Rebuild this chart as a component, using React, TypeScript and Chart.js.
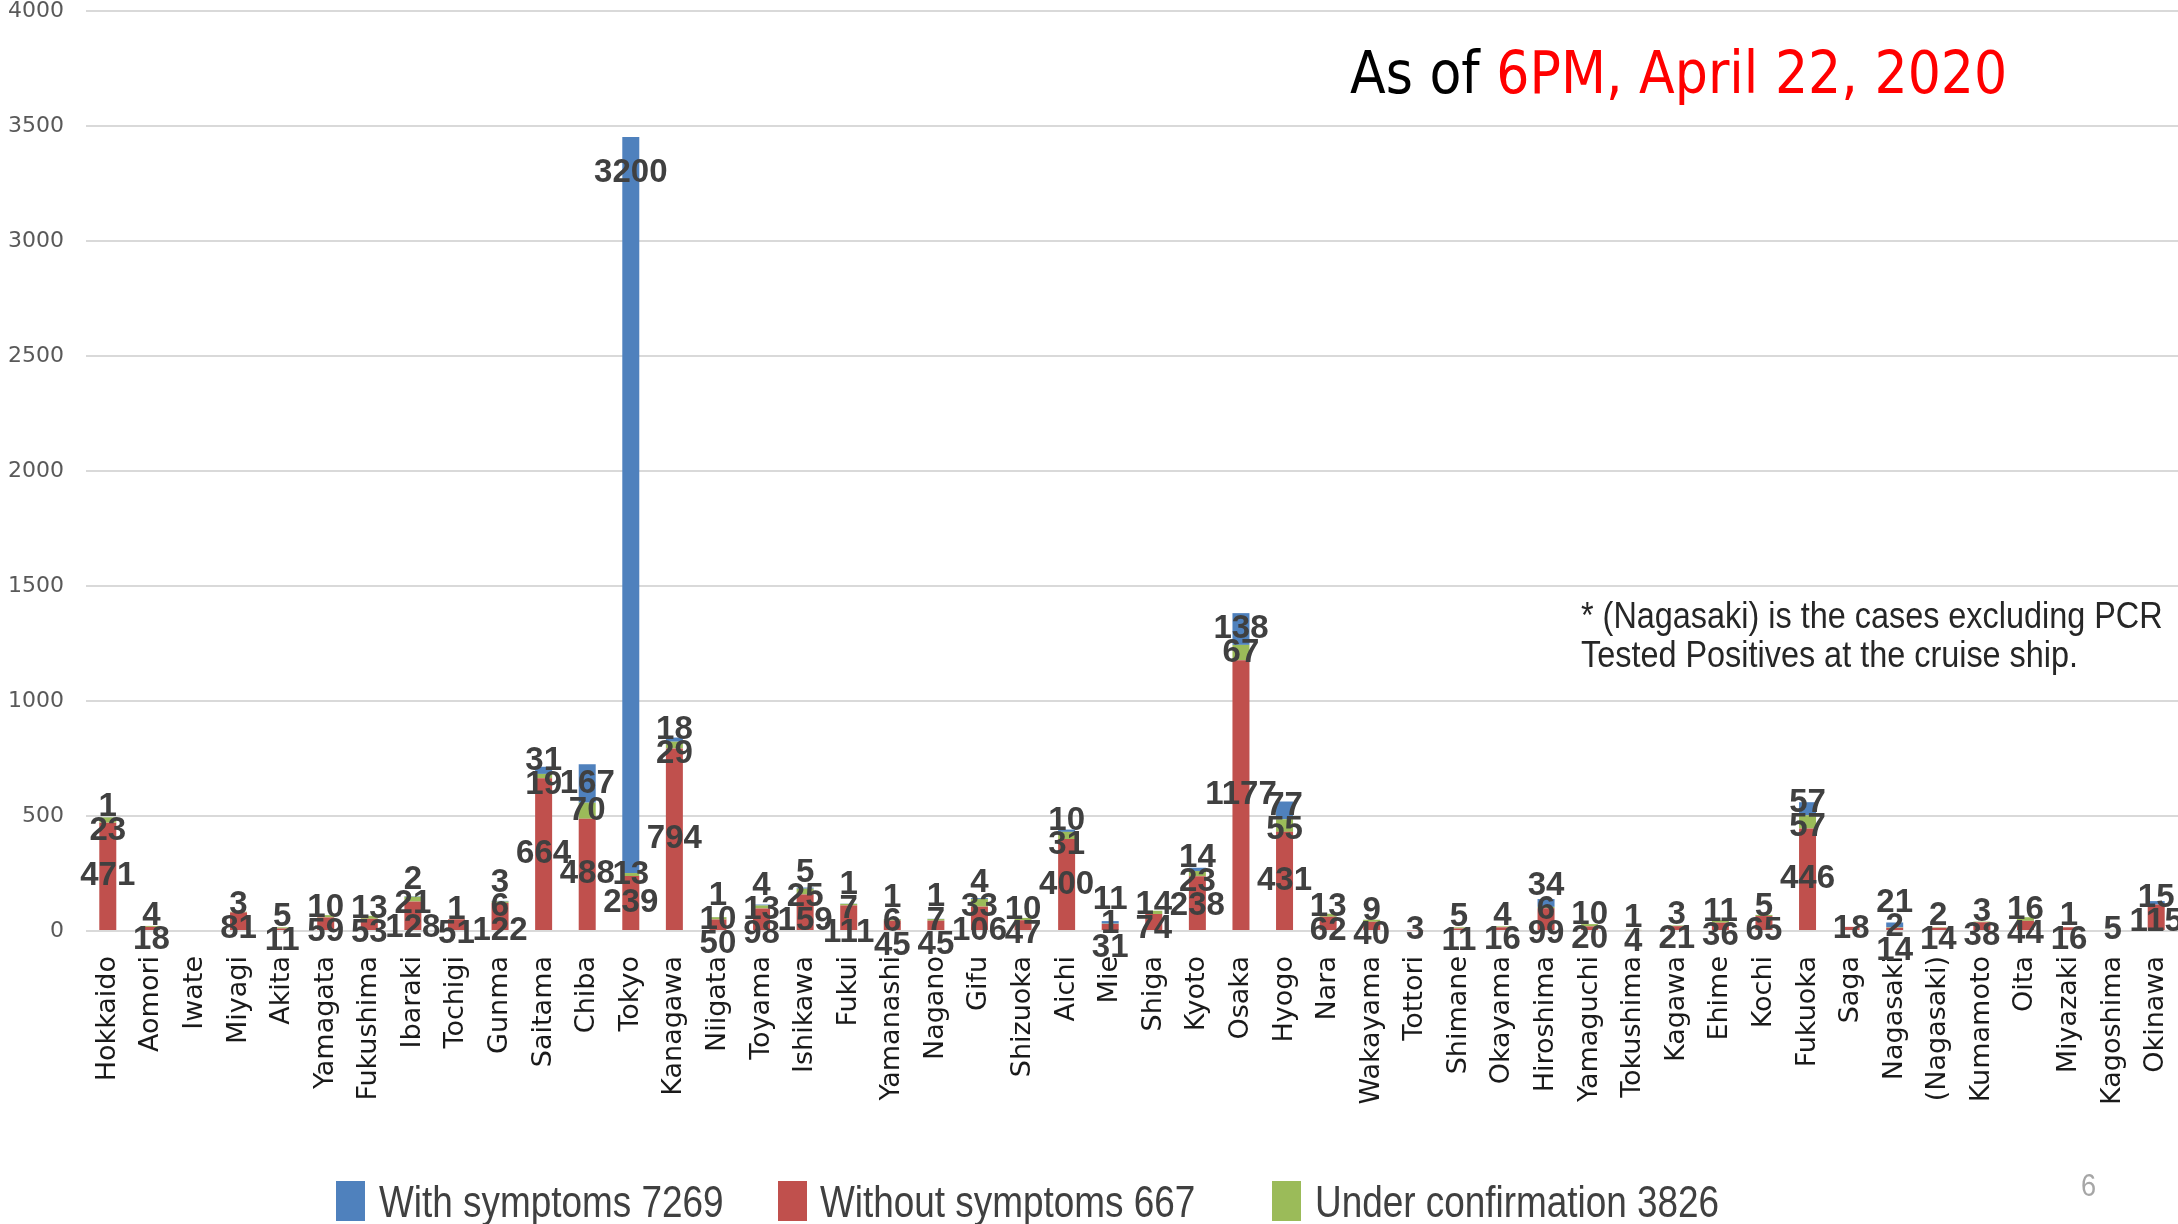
import React, { useEffect, useRef } from "react";
import { Chart, registerables } from "chart.js";

Chart.register(...registerables);

const categories = [
  "Hokkaido", "Aomori", "Iwate", "Miyagi", "Akita", "Yamagata", "Fukushima", "Ibaraki",
  "Tochigi", "Gunma", "Saitama", "Chiba", "Tokyo", "Kanagawa", "Niigata", "Toyama",
  "Ishikawa", "Fukui", "Yamanashi", "Nagano", "Gifu", "Shizuoka", "Aichi", "Mie",
  "Shiga", "Kyoto", "Osaka", "Hyogo", "Nara", "Wakayama", "Tottori", "Shimane",
  "Okayama", "Hiroshima", "Yamaguchi", "Tokushima", "Kagawa", "Ehime", "Kochi", "Fukuoka",
  "Saga", "Nagasaki", "(Nagasaki)", "Kumamoto", "Oita", "Miyazaki", "Kagoshima", "Okinawa",
];

// red segment (bottom of each stack)
const redValues = [
  471, 18, 0, 81, 11, 59, 53, 128,
  51, 122, 664, 488, 239, 794, 50, 98,
  159, 111, 45, 45, 106, 47, 400, 31,
  74, 238, 1177, 431, 62, 40, 3, 11,
  16, 99, 20, 4, 21, 36, 65, 446,
  18, 14, 14, 38, 44, 16, 0, 115,
];

// green segment (middle)
const greenValues = [
  23, 4, 0, 3, 5, 10, 13, 21,
  1, 6, 19, 70, 13, 29, 10, 13,
  25, 7, 6, 7, 33, 10, 31, 1,
  14, 23, 67, 55, 13, 9, 0, 5,
  4, 6, 10, 1, 3, 11, 5, 57,
  0, 2, 2, 3, 16, 1, 5, 0,
];

// blue segment (top)
const blueValues = [
  1, 0, 0, 0, 0, 0, 0, 2,
  0, 3, 31, 167, 3200, 18, 1, 4,
  5, 1, 1, 1, 4, 0, 10, 11,
  0, 14, 138, 77, 0, 0, 0, 0,
  0, 34, 0, 0, 0, 0, 0, 57,
  0, 21, 0, 0, 0, 0, 0, 15,
];

const legendBlue = "With symptoms 7269";
const legendRed = "Without symptoms 667";
const legendGreen = "Under confirmation 3826";

const titleBlack = "As of ";
const titleRed = "6PM, April 22, 2020";
const noteLines = [
  "* (Nagasaki) is the cases excluding PCR",
  "Tested Positives at the cruise ship.",
];
const pageNumber = "6";

const yTicks = [0, 500, 1000, 1500, 2000, 2500, 3000, 3500, 4000];

const BLUE = "#4F81BD";
const RED = "#C0504D";
const GREEN = "#9BBB59";

const SANS = "'Liberation Sans', Arial, sans-serif";

function condensedText(ctx: any, text: string, x: number, y: number, sx: number) {
  ctx.save();
  ctx.translate(x, y);
  ctx.scale(sx, 1);
  ctx.fillText(text, 0, 0);
  ctx.restore();
}

const segLabels = {
  id: "segLabels",
  afterDatasetsDraw(chart: any) {
    const ctx = chart.ctx;
    const n = chart.data.labels.length;
    ctx.save();
    ctx.font = "bold 33px " + SANS;
    ctx.fillStyle = "#404040";
    ctx.textAlign = "center";
    ctx.textBaseline = "middle";
    const sep = 24;
    for (let i = 0; i < n; i++) {
      const items: { text: string; x: number; y: number }[] = [];
      chart.data.datasets.forEach((ds: any, d: number) => {
        const v = ds.data[i];
        if (!v) return;
        const el = chart.getDatasetMeta(d).data[i];
        const top = Math.min(el.y, el.base);
        const bot = Math.max(el.y, el.base);
        let y = (top + bot) / 2;
        if (d === 2) y = Math.min(y, top + 36);
        items.push({ text: String(v), x: el.x, y });
      });
      for (let it = 0; it < 40; it++) {
        items.sort((a, b) => a.y - b.y);
        for (let k = 0; k < items.length - 1; k++) {
          const diff = items[k + 1].y - items[k].y;
          if (diff < sep) {
            const s = (sep - diff) / 2;
            items[k].y -= s;
            items[k + 1].y += s;
          }
        }
      }
      items.forEach((o) => ctx.fillText(o.text, o.x, o.y));
    }
    ctx.restore();
  },
};

const decorations = {
  id: "decorations",
  afterDraw(chart: any) {
    const ctx = chart.ctx;
    ctx.save();
    ctx.textBaseline = "alphabetic";
    ctx.textAlign = "left";
    // title
    ctx.font = "58px 'DejaVu Sans Condensed', 'DejaVu Sans', sans-serif";
    ctx.fillStyle = "#000000";
    ctx.fillText(titleBlack, 1350, 93);
    const w = ctx.measureText(titleBlack).width;
    ctx.fillStyle = "#FF0000";
    ctx.fillText(titleRed, 1350 + w, 93);
    // note
    ctx.font = "36px " + SANS;
    ctx.fillStyle = "#262626";
    condensedText(ctx, noteLines[0], 1581, 628, 0.9);
    condensedText(ctx, noteLines[1], 1581, 667, 0.9);
    // legend
    const items = [
      { c: BLUE, t: legendBlue, sx: 336, tx: 379 },
      { c: RED, t: legendRed, sx: 778, tx: 820 },
      { c: GREEN, t: legendGreen, sx: 1272, tx: 1315 },
    ];
    ctx.font = "45px " + SANS;
    items.forEach((o) => {
      ctx.fillStyle = o.c;
      ctx.fillRect(o.sx, 1181, 29, 40);
      ctx.fillStyle = "#404040";
      condensedText(ctx, o.t, o.tx, 1217, 0.82);
    });
    // page number
    ctx.font = "32px " + SANS;
    ctx.fillStyle = "#A6A6A6";
    condensedText(ctx, pageNumber, 2081, 1196, 0.85);
    ctx.restore();
  },
};

export default function App() {
  const ref = useRef<HTMLCanvasElement | null>(null);
  useEffect(() => {
    if (!ref.current) return;
    const chart = new Chart(ref.current, {
      type: "bar",
      data: {
        labels: categories,
        datasets: [
          { label: legendRed, data: redValues, backgroundColor: RED, stack: "s" },
          { label: legendGreen, data: greenValues, backgroundColor: GREEN, stack: "s" },
          { label: legendBlue, data: blueValues, backgroundColor: BLUE, stack: "s" },
        ],
      },
      options: {
        responsive: false,
        animation: false,
        devicePixelRatio: 1,
        layout: { padding: { top: 11, left: 0, right: 0, bottom: 0 } },
        datasets: { bar: { categoryPercentage: 1, barPercentage: 0.39 } },
        plugins: { legend: { display: false }, tooltip: { enabled: false }, title: { display: false } },
        scales: {
          x: {
            stacked: true,
            grid: { display: false, drawTicks: false },
            border: { display: false },
            ticks: {
              autoSkip: false,
              maxRotation: 90,
              minRotation: 90,
              padding: 25,
              color: "#1a1a1a",
              font: { family: "'DejaVu Sans', sans-serif", size: 27 },
            },
            afterFit: (s: any) => {
              s.height = 293;
              s.paddingLeft = 0;
              s.paddingRight = 0;
            },
          },
          y: {
            stacked: true,
            min: 0,
            max: 4000,
            afterBuildTicks: (s: any) => {
              s.ticks = yTicks.map((v) => ({ value: v }));
            },
            grid: { color: "#D9D9D9", lineWidth: 2, drawTicks: false },
            border: { display: false },
            ticks: {
              padding: 22,
              color: "#595959",
              font: { family: "'DejaVu Sans', sans-serif", size: 22 },
              callback: (v: any) => String(v),
            },
            afterFit: (s: any) => {
              s.width = 86;
              s.paddingTop = 0;
              s.paddingBottom = 0;
            },
          },
        },
      },
      plugins: [segLabels, decorations],
    });
    return () => chart.destroy();
  }, []);
  return (
    <div style={{ position: "fixed", left: 0, top: 0, width: 2178, height: 1224, background: "#fff" }}>
      <canvas ref={ref} width={2178} height={1224} style={{ width: 2178, height: 1224, display: "block" }} />
    </div>
  );
}
